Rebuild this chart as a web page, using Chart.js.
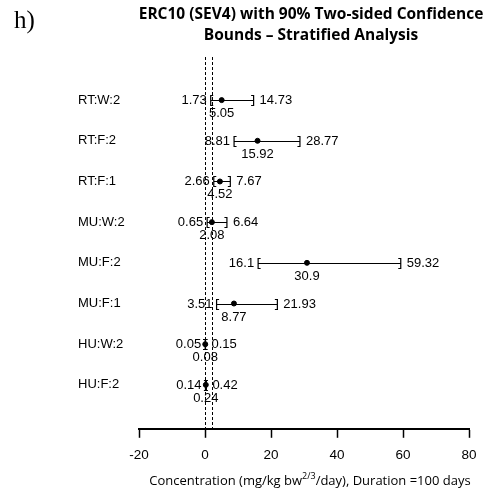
<!DOCTYPE html>
<html lang="en">
<head>
    <meta charset="UTF-8">
    <title>ERC10 (SEV4) Stratified Analysis</title>
    <script src="https://cdn.jsdelivr.net/npm/chart.js"></script>
    <style>
        html, body {
            margin: 0;
            padding: 0;
            background: #fff;
        }

        .chart-container {
            position: relative;
            width: 495px;
            height: 498px;
        }
    </style>
</head>
<body>
    <div class="chart-container">
        <canvas id="forest-chart"></canvas>
    </div>

    <script>
        // data
        const groups = ['RT:W:2', 'RT:F:2', 'RT:F:1', 'MU:W:2', 'MU:F:2', 'MU:F:1', 'HU:W:2', 'HU:F:2'];
        const lowerBounds = [1.73, 8.81, 2.66, 0.65, 16.1, 3.51, 0.05, 0.14];
        const estimates = [5.05, 15.92, 4.52, 2.08, 30.9, 8.77, 0.08, 0.24];
        const upperBounds = [14.73, 28.77, 7.67, 6.64, 59.32, 21.93, 0.15, 0.42];
        const refLines = [0, 2];
        const xTicks = [-20, 0, 20, 40, 60, 80];
        const titleLines = ['ERC10 (SEV4) with 90% Two-sided Confidence', 'Bounds \u2013 Stratified Analysis'];

        const ctx = document.getElementById('forest-chart').getContext('2d');

        const forestPlugin = {
            id: 'forest',
            beforeDatasetsDraw(chart) {
                const { ctx, chartArea, scales: { x } } = chart;
                ctx.save();
                ctx.strokeStyle = '#000';
                ctx.lineWidth = 1;
                ctx.setLineDash([3, 2]);
                refLines.forEach(v => {
                    const px = Math.round(x.getPixelForValue(v)) + 0.5;
                    ctx.beginPath();
                    ctx.moveTo(px, chartArea.top);
                    ctx.lineTo(px, chartArea.bottom);
                    ctx.stroke();
                });
                ctx.restore();
            },
            afterDatasetsDraw(chart) {
                const { ctx, scales: { x, y } } = chart;
                ctx.save();
                ctx.strokeStyle = '#000';
                ctx.fillStyle = '#000';
                ctx.lineWidth = 1.2;
                ctx.font = '13px "Liberation Sans", Arial, sans-serif';
                ctx.textBaseline = 'middle';
                groups.forEach((g, i) => {
                    const py = Math.round(y.getPixelForValue(i)) + 0.5;
                    const lo = x.getPixelForValue(lowerBounds[i]);
                    const hi = x.getPixelForValue(upperBounds[i]);
                    const est = x.getPixelForValue(estimates[i]);
                    const h = 5, s = 2.5;
                    ctx.beginPath();
                    ctx.moveTo(lo, py);
                    ctx.lineTo(hi, py);
                    // lower bracket "["
                    ctx.moveTo(lo + s, py - h);
                    ctx.lineTo(lo, py - h);
                    ctx.lineTo(lo, py + h);
                    ctx.lineTo(lo + s, py + h);
                    // upper bracket "]"
                    ctx.moveTo(hi - s, py - h);
                    ctx.lineTo(hi, py - h);
                    ctx.lineTo(hi, py + h);
                    ctx.lineTo(hi - s, py + h);
                    ctx.stroke();

                    ctx.textAlign = 'right';
                    ctx.fillText(String(lowerBounds[i]), lo - 4, py);
                    ctx.textAlign = 'left';
                    ctx.fillText(String(upperBounds[i]), hi + 6, py);
                    ctx.textAlign = 'center';
                    ctx.fillText(String(estimates[i]), est, py + 13);
                });
                ctx.restore();
            },
            afterDraw(chart) {
                const { ctx, chartArea } = chart;
                const cx = (chartArea.left + chartArea.right) / 2;
                ctx.save();
                ctx.fillStyle = '#000';
                ctx.textBaseline = 'alphabetic';

                // panel letter
                ctx.font = '25px "Liberation Serif", "DejaVu Serif", serif';
                ctx.textAlign = 'left';
                ctx.fillText('h)', 14, 28);

                // title, centred a little right of the plot area
                ctx.font = 'bold 15.5px "Open Sans", sans-serif';
                ctx.textAlign = 'center';
                titleLines.forEach((t, i) => {
                    ctx.fillText(t, cx + 7, 19 + i * 21);
                });

                // x axis title with superscript
                const base = 485;
                const main = '13px "Open Sans", sans-serif';
                const sup = '9px "Open Sans", sans-serif';
                const p1 = 'Concentration (mg/kg bw';
                const p2 = '2/3';
                const p3 = '/day), Duration =100 days';
                ctx.textAlign = 'left';
                ctx.font = main;
                const w1 = ctx.measureText(p1).width;
                const w3 = ctx.measureText(p3).width;
                ctx.font = sup;
                const w2 = ctx.measureText(p2).width;
                let sx = cx + 6 - (w1 + w2 + w3) / 2;
                ctx.font = main;
                ctx.fillText(p1, sx, base);
                sx += w1;
                ctx.font = sup;
                ctx.fillText(p2, sx, base - 6);
                sx += w2;
                ctx.font = main;
                ctx.fillText(p3, sx, base);
                ctx.restore();
            }
        };

        new Chart(ctx, {
            type: 'scatter',
            data: {
                datasets: [{
                    label: 'Estimate',
                    data: estimates.map((v, i) => ({ x: v, y: i })),
                    backgroundColor: '#000',
                    borderColor: '#000',
                    pointRadius: 2.5,
                    pointHoverRadius: 2.5
                }]
            },
            options: {
                responsive: true,
                maintainAspectRatio: false,
                animation: false,
                layout: {
                    padding: { left: 78, right: 26, top: 57, bottom: 26 }
                },
                plugins: {
                    legend: { display: false },
                    tooltip: { enabled: false },
                    title: { display: false }
                },
                scales: {
                    x: {
                        type: 'linear',
                        min: -20,
                        max: 80,
                        afterBuildTicks: scale => {
                            scale.ticks = xTicks.map(v => ({ value: v }));
                        },
                        border: { display: true, color: '#000', width: 2 },
                        grid: {
                            drawOnChartArea: false,
                            drawTicks: true,
                            tickLength: 9,
                            tickColor: '#000',
                            tickWidth: 1.5
                        },
                        ticks: {
                            color: '#000',
                            padding: 9,
                            font: { family: '"Liberation Sans", Arial, sans-serif', size: 13.5 }
                        }
                    },
                    y: {
                        type: 'linear',
                        reverse: true,
                        min: -1.06,
                        max: 8.08,
                        afterBuildTicks: scale => {
                            scale.ticks = groups.map((g, i) => ({ value: i }));
                        },
                        afterFit: scale => {
                            scale.width = 61;
                        },
                        border: { display: false },
                        grid: { display: false },
                        ticks: {
                            crossAlign: 'far',
                            color: '#000',
                            font: { family: '"Liberation Sans", Arial, sans-serif', size: 13 },
                            callback: v => groups[v] ?? ''
                        }
                    }
                }
            },
            plugins: [forestPlugin]
        });
    </script>
</body>
</html>
